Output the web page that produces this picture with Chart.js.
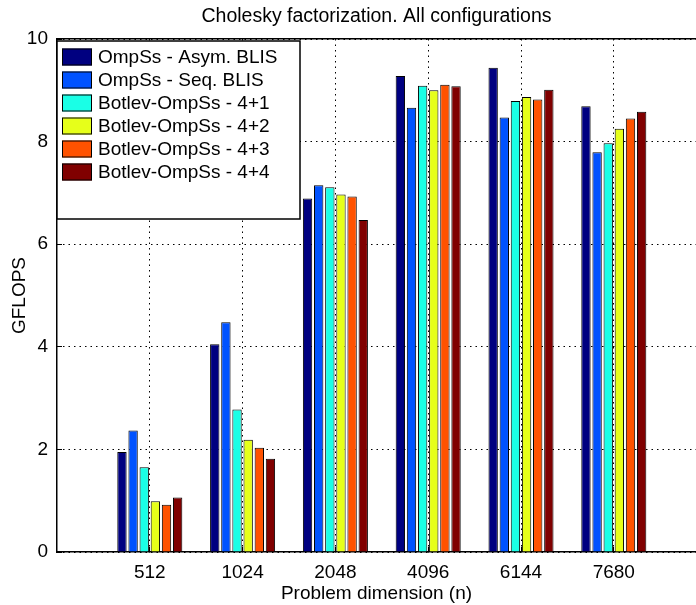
<!DOCTYPE html>
<html>
<head>
<meta charset="utf-8">
<script src="https://cdn.jsdelivr.net/npm/chart.js@4/dist/chart.umd.min.js"></script>
<style>
  html, body { margin: 0; padding: 0; background: #fff; overflow: hidden; }
  #wrap { width: 696px; height: 605px; }
</style>
</head>
<body>
<div id="wrap"><canvas id="chart"></canvas></div>
<script>
'use strict';

// Problem sizes (x categories) and GFLOPS per configuration.
const sizes = ['512', '1024', '2048', '4096', '6144', '7680'];
const asymBlis = [1.95, 4.05, 6.89, 9.28, 9.44, 8.69];
const seqBlis = [2.37, 4.48, 7.15, 8.66, 8.47, 7.79];
const botlev41 = [1.65, 2.78, 7.11, 9.09, 8.79, 7.97];
const botlev42 = [0.99, 2.19, 6.97, 9.00, 8.87, 8.25];
const botlev43 = [0.92, 2.03, 6.93, 9.11, 8.82, 8.45];
const botlev44 = [1.06, 1.82, 6.47, 9.08, 9.01, 8.58];
const yTicks = [0, 2, 4, 6, 8, 10];

const FONT = 'Liberation Sans, Arial, Helvetica, sans-serif';

const series = [
  { label: 'OmpSs - Asym. BLIS', data: asymBlis, color: '#000080' },
  { label: 'OmpSs - Seq. BLIS', data: seqBlis, color: '#0052ff' },
  { label: 'Botlev-OmpSs - 4+1', data: botlev41, color: '#1affe6' },
  { label: 'Botlev-OmpSs - 4+2', data: botlev42, color: '#e6ff1a' },
  { label: 'Botlev-OmpSs - 4+3', data: botlev43, color: '#ff5200' },
  { label: 'Botlev-OmpSs - 4+4', data: botlev44, color: '#800000' },
];

// boxed legend in the upper-left corner of the plot
const boxLegend = {
  id: 'boxLegend',
  afterDraw(chart) {
    const { ctx, chartArea: a } = chart;
    const x = a.left, y = 41, w = 243, h = 178;
    ctx.save();
    ctx.fillStyle = '#fff';
    ctx.fillRect(x, y, w, h);
    ctx.strokeStyle = '#000';
    ctx.lineWidth = 1.5;
    ctx.strokeRect(x, y, w, h);
    ctx.font = '19px ' + FONT;
    ctx.textBaseline = 'middle';
    chart.data.datasets.forEach((ds, i) => {
      const cy = y + 16 + i * 23;
      ctx.fillStyle = ds.backgroundColor;
      ctx.fillRect(x + 5, cy - 8.5, 30, 17);
      ctx.lineWidth = 1;
      ctx.strokeRect(x + 5.5, cy - 8, 29, 16);
      ctx.fillStyle = '#000';
      ctx.fillText(ds.label, x + 41, cy + 1);
    });
    ctx.restore();
  },
};

const xMax = (696 - 57) / 92.8;
const tickFont = { family: FONT, size: 19 };
// dotted grid with short solid ticks pointing inwards
const gridStyle = { color: '#000', lineWidth: 1, drawTicks: true, tickLength: -5, tickColor: '#000', tickWidth: 1 };

new Chart(document.getElementById('chart'), {
  type: 'bar',
  data: {
    datasets: series.map((s) => ({
      label: s.label,
      data: s.data.map((v, i) => ({ x: i + 1, y: v })),
      backgroundColor: s.color,
      borderColor: '#000',
      borderWidth: 1,
      categoryPercentage: 0.72,
      barPercentage: 0.84,
    })),
  },
  options: {
    responsive: true,
    maintainAspectRatio: false,
    animation: false,
    layout: { padding: 0 },
    plugins: {
      legend: { display: false },
      tooltip: { enabled: false },
    },
    scales: {
      x: {
        type: 'linear',
        offset: false,
        min: 0,
        max: xMax,
        afterBuildTicks: (s) => { s.ticks = sizes.map((_, i) => ({ value: i + 1 })); },
        afterFit: (s) => { s.height = 53; },
        ticks: {
          callback: (v) => sizes[v - 1],
          color: '#000',
          font: tickFont,
          padding: 14,
          maxRotation: 0,
          autoSkip: false,
        },
        grid: { ...gridStyle, offset: false },
        border: { color: '#000', width: 1.5, dash: [1.5, 4] },
        title: {
          display: true,
          text: 'Problem dimension (n)',
          color: '#000',
          font: tickFont,
          padding: { top: 0, bottom: 0 },
        },
      },
      // top axis: carries the plot title and the top edge of the box
      top: {
        type: 'linear',
        position: 'top',
        min: 0,
        max: xMax,
        afterFit: (s) => { s.height = 39; },
        ticks: { display: false },
        grid: { display: false, drawTicks: false },
        border: { color: '#000', width: 1.5 },
        title: {
          display: true,
          text: 'Cholesky factorization. All configurations',
          color: '#000',
          font: { family: FONT, size: 19.5 },
          padding: { top: 5, bottom: 0 },
        },
      },
      y: {
        min: 0,
        max: 10,
        afterBuildTicks: (s) => { s.ticks = yTicks.map((v) => ({ value: v })); },
        afterFit: (s) => { s.width = 57; },
        ticks: {
          color: '#000',
          font: tickFont,
          padding: 14,
        },
        grid: gridStyle,
        border: { color: '#000', width: 1.5, dash: [1.5, 4] },
        title: {
          display: true,
          text: 'GFLOPS',
          color: '#000',
          font: tickFont,
          padding: { top: 8, bottom: 0 },
        },
      },
    },
  },
  plugins: [boxLegend],
});
</script>
</body>
</html>
